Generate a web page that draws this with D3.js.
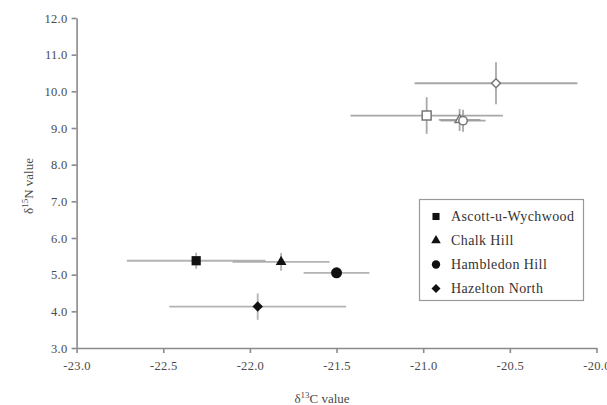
<!DOCTYPE html>
<html><head><meta charset="utf-8">
<script src="https://cdn.jsdelivr.net/npm/d3@7"></script>
<style>body{margin:0;background:#fff}svg{display:block}</style>
</head><body><svg id="c" width="607" height="405"></svg>
<script>
// data
const sites = ["Ascott-u-Wychwood", "Chalk Hill", "Hambledon Hill", "Hazelton North"];
const shapes = ["square", "triangle", "circle", "diamond"];
// filled markers
const fillC = [-22.31, -21.82, -21.50, -21.955];
const fillN = [5.38, 5.35, 5.05, 4.13];
const fillCerr = [0.40, 0.28, 0.19, 0.51];
const fillNerr = [0.22, 0.24, 0.08, 0.36];
// open markers
const openShapes = ["square", "triangle", "circle", "diamond"];
const openC = [-20.98, -20.79, -20.77, -20.58];
const openN = [9.34, 9.22, 9.20, 10.22];
const openCerr = [0.44, 0.12, 0.13, 0.47];
const openNerr = [0.50, 0.30, 0.30, 0.57];
const xTicks = [-23.0, -22.5, -22.0, -21.5, -21.0, -20.5, -20.0];
const yTicks = [3, 4, 5, 6, 7, 8, 9, 10, 11, 12];

const svg = d3.select("#c");
const x = d3.scaleLinear().domain([-23, -20]).range([76.6, 596.5]);
const y = d3.scaleLinear().domain([3, 12]).range([348, 18]);
const font = "Liberation Serif";
const axisCol = "#8a8a8a", textCol = "#4a4a4a";

const xa = svg.append("g").attr("transform", `translate(0,${y(3)})`)
  .call(d3.axisBottom(x).tickValues(xTicks).tickSize(5).tickSizeOuter(0).tickPadding(8).tickFormat(d => d.toFixed(1)));
const ya = svg.append("g").attr("transform", `translate(${x(-23)},0)`)
  .call(d3.axisLeft(y).tickValues(yTicks).tickSize(5).tickSizeOuter(0).tickPadding(4).tickFormat(d => d.toFixed(1)));
[xa, ya].forEach(a => {
  a.attr("font-family", font).attr("font-size", 12.5);
  a.selectAll("path,line").attr("stroke", axisCol).attr("stroke-width", 1.6);
  a.selectAll("text").attr("fill", textCol).attr("letter-spacing", 0.3);
});

// axis titles
const xt = svg.append("text").attr("x", 322).attr("y", 403).attr("text-anchor", "middle")
  .attr("font-family", font).attr("font-size", 13).attr("fill", textCol);
xt.append("tspan").text("δ");
xt.append("tspan").text("13").attr("dy", -5).attr("font-size", 9);
xt.append("tspan").text("C value").attr("dy", 5);
const yt = svg.append("text").attr("transform", `translate(33,186) rotate(-90)`).attr("text-anchor", "middle")
  .attr("font-family", font).attr("font-size", 13).attr("fill", textCol);
yt.append("tspan").text("δ");
yt.append("tspan").text("15").attr("dy", -5).attr("font-size", 9);
yt.append("tspan").text("N value").attr("dy", 5);

const symType = {square: d3.symbolSquare, triangle: d3.symbolTriangle, circle: d3.symbolCircle, diamond: d3.symbolSquare};
const rot = {square: 0, triangle: 0, circle: 0, diamond: 45};
const symSize = {square: 85, triangle: 50, circle: 95, diamond: 55};
const openSize = {square: 80, triangle: 35, circle: 55, diamond: 40};

function bars(g, cx, cy, ce, ne, col, w) {
  cx.forEach((c, i) => {
    g.append("line").attr("x1", x(c - ce[i])).attr("x2", x(c + ce[i])).attr("y1", y(cy[i])).attr("y2", y(cy[i]))
      .attr("stroke", col).attr("stroke-width", w).attr("stroke-opacity", 0.85);
    g.append("line").attr("x1", x(c)).attr("x2", x(c)).attr("y1", y(cy[i] - ne[i])).attr("y2", y(cy[i] + ne[i]))
      .attr("stroke", col).attr("stroke-width", w).attr("stroke-opacity", 0.85);
  });
}
const g = svg.append("g");
bars(g, openC, openN, openCerr, openNerr, "#999", 1.8);
bars(g, fillC, fillN, fillCerr, fillNerr, "#a6a6a6", 1.8);

openC.forEach((c, i) => {
  const s = openShapes[i];
  g.append("path").attr("d", d3.symbol(symType[s], openSize[s])())
    .attr("transform", `translate(${x(c)},${y(openN[i])}) rotate(${rot[s]})`)
    .attr("fill", "#fff").attr("stroke", "#777").attr("stroke-width", 1.5);
});
fillC.forEach((c, i) => {
  const s = shapes[i];
  g.append("path").attr("d", d3.symbol(symType[s], symSize[s])())
    .attr("transform", `translate(${x(c)},${y(fillN[i])}) rotate(${rot[s]})`)
    .attr("fill", "#111");
});

// legend
const lg = svg.append("g");
lg.append("rect").attr("x", 419.5).attr("y", 199.5).attr("width", 164).attr("height", 101)
  .attr("fill", "#fff").attr("stroke", "#999").attr("stroke-width", 1.2);
const legSize = {square: 50, triangle: 40, circle: 55, diamond: 40};
sites.forEach((s, i) => {
  const yy = 216.5 + i * 24;
  const sh = shapes[i];
  lg.append("path").attr("d", d3.symbol(symType[sh], legSize[sh])())
    .attr("transform", `translate(436,${yy}) rotate(${rot[sh]})`).attr("fill", "#111");
  lg.append("text").attr("x", 451).attr("y", yy + 4.5).text(s)
    .attr("font-family", font).attr("font-size", 14).attr("letter-spacing", 0.4).attr("fill", "#333");
});
</script></body></html>
